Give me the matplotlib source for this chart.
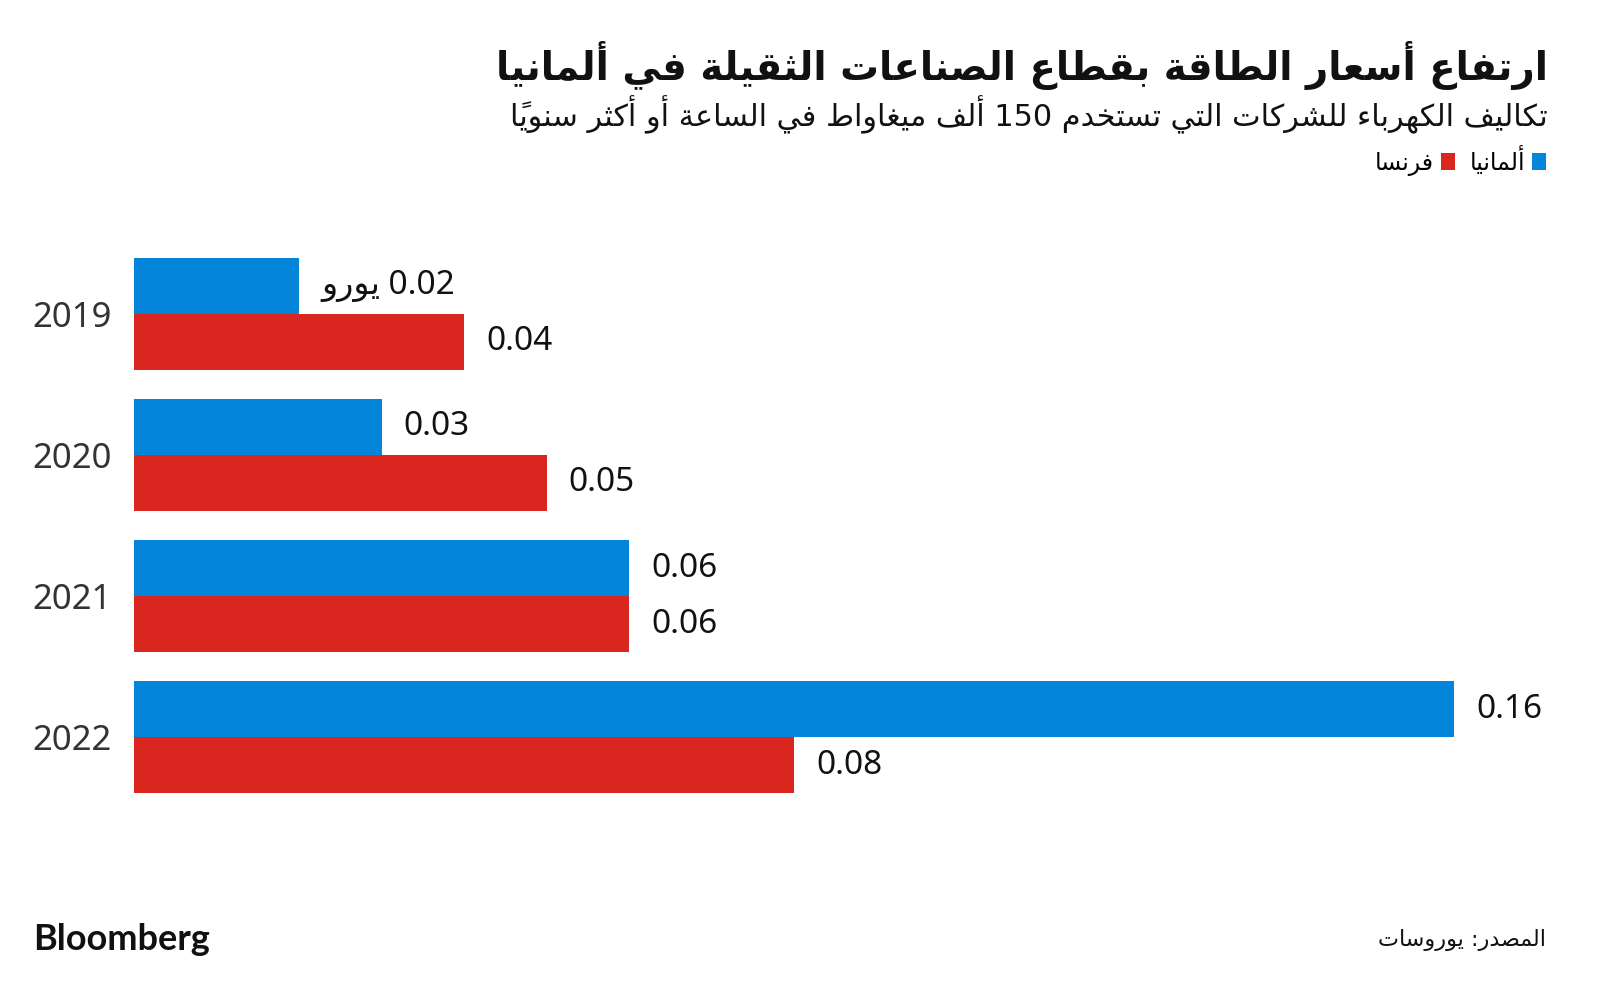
import matplotlib
matplotlib.use("Agg")
import matplotlib.pyplot as plt

# ── Data ──────────────────────────────────────────────────────────────────────
years = ["2019", "2020", "2021", "2022"]
germany = [0.02, 0.03, 0.06, 0.16]
france = [0.04, 0.05, 0.06, 0.08]

title = "ارتفاع أسعار الطاقة بقطاع الصناعات الثقيلة في ألمانيا"
subtitle = "تكاليف الكهرباء للشركات التي تستخدم 150 ألف ميغاواط في الساعة أو أكثر سنوياً"
label_de = "ألمانيا"
label_fr = "فرنسا"
unit = "يورو"
source = "المصدر: يوروسات"

BLUE = "#0585DA"
RED = "#D9261F"

# ── Minimal Arabic shaping (presentation forms) + visual reordering ──────────
FORMS = {
    '\u0621': (0xFE80, 1), '\u0622': (0xFE81, 2), '\u0623': (0xFE83, 2), '\u0624': (0xFE85, 2),
    '\u0625': (0xFE87, 2), '\u0626': (0xFE89, 4), '\u0627': (0xFE8D, 2), '\u0628': (0xFE8F, 4),
    '\u0629': (0xFE93, 2), '\u062A': (0xFE95, 4), '\u062B': (0xFE99, 4), '\u062C': (0xFE9D, 4),
    '\u062D': (0xFEA1, 4), '\u062E': (0xFEA5, 4), '\u062F': (0xFEA9, 2), '\u0630': (0xFEAB, 2),
    '\u0631': (0xFEAD, 2), '\u0632': (0xFEAF, 2), '\u0633': (0xFEB1, 4), '\u0634': (0xFEB5, 4),
    '\u0635': (0xFEB9, 4), '\u0636': (0xFEBD, 4), '\u0637': (0xFEC1, 4), '\u0638': (0xFEC5, 4),
    '\u0639': (0xFEC9, 4), '\u063A': (0xFECD, 4), '\u0641': (0xFED1, 4), '\u0642': (0xFED5, 4),
    '\u0643': (0xFED9, 4), '\u0644': (0xFEDD, 4), '\u0645': (0xFEE1, 4), '\u0646': (0xFEE5, 4),
    '\u0647': (0xFEE9, 4), '\u0648': (0xFEED, 2), '\u0649': (0xFEEF, 2), '\u064A': (0xFEF1, 4),
}
LAM_ALEF = {'\u0622': 0xFEF5, '\u0623': 0xFEF7, '\u0625': 0xFEF9, '\u0627': 0xFEFB}
MARKS = set(chr(c) for c in range(0x064B, 0x0653))


def shape(text):
    units = []
    chars = list(text)
    i = 0
    while i < len(chars):
        c = chars[i]
        if c in MARKS and units:
            units[-1][2] += c
            i += 1
            continue
        if c == '\u0644' and i + 1 < len(chars) and chars[i + 1] in LAM_ALEF:
            units.append([c, (LAM_ALEF[chars[i + 1]], 2), ''])
            i += 2
            continue
        units.append([c, FORMS.get(c), ''])
        i += 1
    out = []
    for k, (c, f, m) in enumerate(units):
        if f is None:
            out.append(c + m)
            continue
        base, n = f
        prev = units[k - 1][1] if k > 0 else None
        nxt = units[k + 1][1] if k + 1 < len(units) else None
        pj = n > 1 and prev is not None and prev[1] == 4
        nj = n == 4 and nxt is not None and nxt[1] >= 2
        g = base + (3 if pj and nj else 1 if pj else 2 if nj else 0)
        out.append(chr(g) + m)
    return out


def ar(text):
    runs = []
    for u in shape(text):
        ltr = u[0].isdigit() or u[0] == '.' or (u[0].isascii() and u[0].isalpha())
        if runs and runs[-1][0] == ltr:
            runs[-1][1].append(u)
        else:
            runs.append([ltr, [u]])
    return ''.join(''.join(us if ltr else reversed(us)) for ltr, us in reversed(runs))


# ── Figure ────────────────────────────────────────────────────────────────────
W, H = 1600, 998
fig = plt.figure(figsize=(W / 100, H / 100), dpi=100, facecolor="white")
ax = fig.add_axes([134 / W, (H - 808) / H, 1320 / W, 565 / H])

pos = list(range(len(years)))
h = 0.397
bars_de = ax.barh([p - h / 2 for p in pos], germany, height=h, color=BLUE)
bars_fr = ax.barh([p + h / 2 for p in pos], france, height=h, color=RED)

ax.set_xlim(0, 0.16)
ax.set_ylim(3.5, -0.5)
for s in ax.spines.values():
    s.set_visible(False)
ax.set_xticks([])
ax.set_yticks(pos)
ax.set_yticklabels(years, fontsize=25, color="#333333", family="Noto Sans")
ax.tick_params(axis="y", length=0, pad=16)

for i, (b, v) in enumerate(zip(bars_de, germany)):
    txt = f"{v:.2f}"
    if i == 0:
        txt = ar(f"{v:.2f} {unit}")
    ax.annotate(txt, (v, b.get_y() + b.get_height() / 2), xytext=(16, 0),
                textcoords="offset points", va="center", ha="left", fontsize=24,
                family=["Noto Sans", "DejaVu Sans"], color="#111111", annotation_clip=False)
for b, v in zip(bars_fr, france):
    ax.annotate(f"{v:.2f}", (v, b.get_y() + b.get_height() / 2), xytext=(16, 0),
                textcoords="offset points", va="center", ha="left", fontsize=24,
                family="Noto Sans", color="#111111", annotation_clip=False)

# ── Titles / legend / footer ──────────────────────────────────────────────────
fig.text(1548 / W, 1 - 66 / H, ar(title), ha="right", va="center", fontsize=27.8,
         fontweight="bold", family="DejaVu Sans", color="#111111")
fig.text(1548 / W, 1 - 115 / H, ar(subtitle), ha="right", va="center", fontsize=21.8,
         family="DejaVu Sans", color="#111111")

fig.legend([bars_fr, bars_de], [ar(label_fr), ar(label_de)], ncol=2, markerfirst=False,
           loc="center right", bbox_to_anchor=(1546 / W, 1 - 161 / H), frameon=False,
           fontsize=17, handlelength=0.6, handleheight=0.75, handletextpad=0.3,
           columnspacing=0.6, borderaxespad=0, borderpad=0)

fig.text(33 / W, 1 - 940 / H, "Bloomberg", ha="left", va="center", fontsize=26,
         fontweight="bold", family="Lato", color="#111111")
fig.text(1546 / W, 1 - 940 / H, ar(source), ha="right", va="center", fontsize=16,
         family="DejaVu Sans", color="#111111")

fig.savefig("out.png", dpi=100, facecolor="white")
